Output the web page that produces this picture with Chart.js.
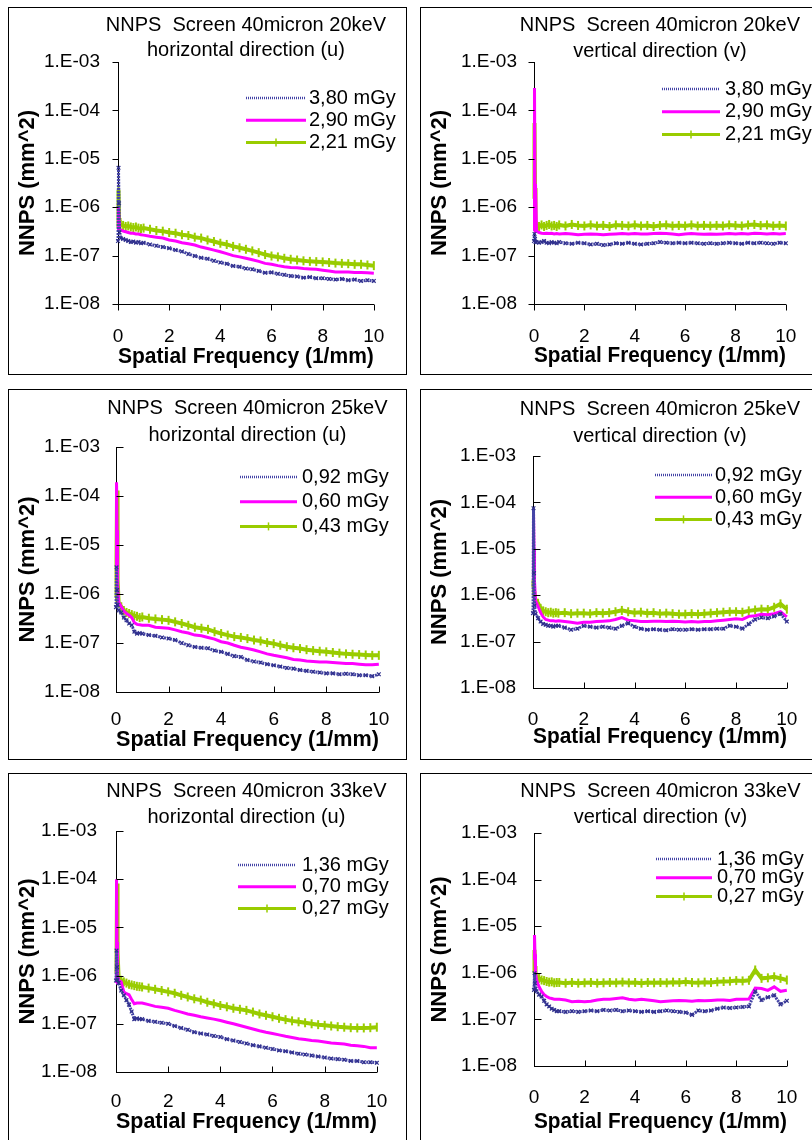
<!DOCTYPE html>
<html>
<head>
<meta charset="utf-8">
<script src="https://cdn.jsdelivr.net/npm/chart.js@4/dist/chart.umd.min.js"></script>
<style>
  html, body { margin: 0; padding: 0; background: #fff; overflow: hidden; }
  body { width: 812px; height: 1140px; position: relative; }
  .panel { position: absolute; border: 1px solid #000; background: #fff; overflow: hidden; }
  .panel canvas { display: block; }
</style>
</head>
<body>
<div class="panel" style="left:8px;top:7px;width:397px;height:366px"><canvas id="c1"></canvas></div>
<div class="panel" style="left:420px;top:7px;width:397px;height:366px"><canvas id="c2"></canvas></div>
<div class="panel" style="left:8px;top:389px;width:397px;height:369px"><canvas id="c3"></canvas></div>
<div class="panel" style="left:420px;top:389px;width:397px;height:369px"><canvas id="c4"></canvas></div>
<div class="panel" style="left:8px;top:773px;width:397px;height:368px"><canvas id="c5"></canvas></div>
<div class="panel" style="left:420px;top:773px;width:397px;height:368px"><canvas id="c6"></canvas></div>
<script>
// spatial frequency (1/mm), shared by every series
const freq = [0, 0.02, 0.04, 0.06, 0.1, 0.2, 0.3, 0.4, 0.5, 0.6, 0.7, 0.8, 0.9, 1.0,
  1.25, 1.5, 1.75, 2.0, 2.25, 2.5, 2.75, 3.0, 3.25, 3.5, 3.75, 4.0,
  4.25, 4.5, 4.75, 5.0, 5.25, 5.5, 5.75, 6.0, 6.25, 6.5, 6.75, 7.0,
  7.25, 7.5, 7.75, 8.0, 8.25, 8.5, 8.75, 9.0, 9.25, 9.5, 9.75, 10.0];

const dose20 = ['3,80 mGy', '2,90 mGy', '2,21 mGy'];
const dose25 = ['0,92 mGy', '0,60 mGy', '0,43 mGy'];
const dose33 = ['1,36 mGy', '0,70 mGy', '0,27 mGy'];

// NNPS (mm^2) - 20 keV, horizontal (u)
const h20_380 = [2.0e-7, 6.5e-6, 1.2e-6, 3.0e-7, 2.3e-7, 2.2e-7, 2.1e-7, 2.0e-7, 1.9e-7, 1.95e-7, 1.85e-7, 1.9e-7, 1.8e-7, 1.85e-7,
  1.7e-7, 1.6e-7, 1.5e-7, 1.42e-7, 1.3e-7, 1.22e-7, 1.08e-7, 9.8e-8, 9.0e-8, 8.6e-8, 7.8e-8, 7.2e-8,
  6.8e-8, 6.1e-8, 5.9e-8, 5.4e-8, 5.2e-8, 4.8e-8, 4.4e-8, 4.5e-8, 4.2e-8, 4.0e-8, 3.8e-8, 3.7e-8,
  3.5e-8, 3.6e-8, 3.4e-8, 3.4e-8, 3.3e-8, 3.2e-8, 3.3e-8, 3.1e-8, 3.2e-8, 3.0e-8, 3.1e-8, 3.0e-8];
const h20_290 = [3.4e-7, 1.0e-6, 5.0e-7, 3.6e-7, 3.4e-7, 3.2e-7, 3.1e-7, 3.0e-7, 2.9e-7, 2.9e-7, 2.8e-7, 2.8e-7, 2.7e-7, 2.65e-7,
  2.5e-7, 2.4e-7, 2.3e-7, 2.1e-7, 2.0e-7, 1.85e-7, 1.75e-7, 1.65e-7, 1.5e-7, 1.4e-7, 1.3e-7, 1.2e-7,
  1.1e-7, 1.0e-7, 9.4e-8, 8.8e-8, 8.2e-8, 7.6e-8, 6.9e-8, 6.6e-8, 6.2e-8, 5.9e-8, 5.7e-8, 5.6e-8,
  5.4e-8, 5.3e-8, 5.2e-8, 5.0e-8, 4.8e-8, 4.6e-8, 4.6e-8, 4.6e-8, 4.5e-8, 4.5e-8, 4.4e-8, 4.3e-8];
const h20_221 = [3.8e-7, 2.3e-6, 6.0e-7, 4.6e-7, 4.4e-7, 4.2e-7, 4.0e-7, 4.1e-7, 3.9e-7, 3.8e-7, 3.9e-7, 3.7e-7, 3.6e-7, 3.7e-7,
  3.5e-7, 3.3e-7, 3.2e-7, 3.0e-7, 2.9e-7, 2.7e-7, 2.6e-7, 2.4e-7, 2.3e-7, 2.1e-7, 1.95e-7, 1.8e-7,
  1.7e-7, 1.55e-7, 1.45e-7, 1.35e-7, 1.25e-7, 1.15e-7, 1.05e-7, 9.8e-8, 9.4e-8, 8.8e-8, 8.4e-8, 8.1e-8,
  7.8e-8, 7.6e-8, 7.5e-8, 7.4e-8, 7.2e-8, 7.0e-8, 6.9e-8, 6.8e-8, 6.6e-8, 6.6e-8, 6.4e-8, 6.2e-8];

// 20 keV, vertical (v)
const v20_380 = [2.0e-7, 2.8e-7, 2.2e-7, 1.9e-7, 1.9e-7, 1.85e-7, 1.9e-7, 2.0e-7, 1.85e-7, 1.8e-7, 1.9e-7, 1.85e-7, 1.8e-7, 1.9e-7,
  1.8e-7, 1.75e-7, 1.85e-7, 1.8e-7, 1.7e-7, 1.75e-7, 1.65e-7, 1.7e-7, 1.8e-7, 1.75e-7, 1.85e-7, 1.75e-7,
  1.7e-7, 1.75e-7, 1.8e-7, 1.9e-7, 1.85e-7, 1.8e-7, 1.85e-7, 1.8e-7, 1.85e-7, 1.8e-7, 1.75e-7, 1.8e-7,
  1.75e-7, 1.8e-7, 1.85e-7, 1.8e-7, 1.75e-7, 1.85e-7, 1.8e-7, 1.85e-7, 1.8e-7, 1.75e-7, 1.85e-7, 1.8e-7];
const v20_290 = [3.2e-7, 2.9e-4, 1.5e-6, 3.0e-6, 3.2e-7, 3.0e-7, 2.9e-7, 2.85e-7, 2.9e-7, 2.85e-7, 2.9e-7, 2.8e-7, 2.85e-7, 2.8e-7,
  2.85e-7, 2.8e-7, 2.7e-7, 2.75e-7, 2.8e-7, 2.75e-7, 2.7e-7, 2.75e-7, 2.8e-7, 2.85e-7, 2.8e-7, 2.85e-7,
  2.8e-7, 2.8e-7, 2.85e-7, 2.9e-7, 2.85e-7, 2.8e-7, 2.7e-7, 2.8e-7, 2.85e-7, 2.8e-7, 2.75e-7, 2.8e-7,
  2.75e-7, 2.8e-7, 2.85e-7, 2.8e-7, 2.85e-7, 2.8e-7, 2.9e-7, 2.85e-7, 2.8e-7, 2.85e-7, 2.8e-7, 2.85e-7];
const v20_221 = [1.5e-6, 5.5e-5, 2.5e-6, 4.5e-7, 4.2e-7, 4.0e-7, 4.3e-7, 4.0e-7, 4.2e-7, 4.4e-7, 4.1e-7, 4.2e-7, 4.0e-7, 4.3e-7,
  4.1e-7, 4.4e-7, 4.2e-7, 4.1e-7, 4.3e-7, 4.1e-7, 4.2e-7, 4.0e-7, 4.3e-7, 4.2e-7, 4.1e-7, 4.3e-7,
  4.1e-7, 4.2e-7, 4.0e-7, 4.2e-7, 4.3e-7, 4.1e-7, 4.2e-7, 4.1e-7, 4.3e-7, 4.1e-7, 4.2e-7, 4.1e-7,
  4.2e-7, 4.1e-7, 4.3e-7, 4.2e-7, 4.1e-7, 4.3e-7, 4.4e-7, 4.2e-7, 4.3e-7, 4.1e-7, 4.2e-7, 4.1e-7];

// 25 keV, horizontal (u)
const h25_092 = [5.4e-7, 3.5e-6, 1.2e-6, 6.0e-7, 4.6e-7, 4.2e-7, 3.3e-7, 2.9e-7, 2.5e-7, 2.3e-7, 1.7e-7, 1.55e-7, 1.6e-7, 1.55e-7,
  1.45e-7, 1.4e-7, 1.3e-7, 1.23e-7, 1.15e-7, 1.0e-7, 9.0e-8, 8.3e-8, 8.0e-8, 7.8e-8, 7.0e-8, 6.6e-8,
  6.0e-8, 5.4e-8, 5.2e-8, 4.5e-8, 4.2e-8, 4.0e-8, 3.7e-8, 3.5e-8, 3.3e-8, 3.1e-8, 3.0e-8, 2.8e-8,
  2.7e-8, 2.6e-8, 2.5e-8, 2.4e-8, 2.4e-8, 2.3e-8, 2.35e-8, 2.3e-8, 2.2e-8, 2.2e-8, 2.1e-8, 2.3e-8];
const h25_060 = [3.0e-6, 1.9e-4, 2.0e-5, 1.5e-6, 6.9e-7, 5.5e-7, 4.5e-7, 4.0e-7, 3.7e-7, 3.3e-7, 2.6e-7, 2.4e-7, 2.35e-7, 2.3e-7,
  2.3e-7, 2.1e-7, 2.05e-7, 2.0e-7, 1.85e-7, 1.7e-7, 1.6e-7, 1.45e-7, 1.4e-7, 1.3e-7, 1.2e-7, 1.06e-7,
  1.0e-7, 9.0e-8, 8.2e-8, 7.7e-8, 7.2e-8, 6.6e-8, 6.0e-8, 5.6e-8, 5.3e-8, 5.0e-8, 4.6e-8, 4.5e-8,
  4.3e-8, 4.2e-8, 4.1e-8, 4.1e-8, 4.0e-8, 3.9e-8, 3.8e-8, 3.8e-8, 3.7e-8, 3.6e-8, 3.6e-8, 3.7e-8];
const h25_043 = [8.7e-7, 5.0e-6, 1.3e-4, 2.0e-6, 6.5e-7, 5.5e-7, 4.6e-7, 4.2e-7, 4.0e-7, 3.8e-7, 3.6e-7, 3.5e-7, 3.3e-7, 3.4e-7,
  3.2e-7, 3.1e-7, 3.0e-7, 2.9e-7, 2.7e-7, 2.5e-7, 2.3e-7, 2.1e-7, 2.0e-7, 1.9e-7, 1.7e-7, 1.56e-7,
  1.45e-7, 1.35e-7, 1.3e-7, 1.23e-7, 1.15e-7, 1.1e-7, 1.02e-7, 9.7e-8, 9.0e-8, 8.4e-8, 8.0e-8, 7.7e-8,
  7.3e-8, 7.0e-8, 6.8e-8, 6.6e-8, 6.4e-8, 6.2e-8, 6.0e-8, 5.9e-8, 5.8e-8, 5.7e-8, 5.6e-8, 5.6e-8];

// 25 keV, vertical (v)
const v25_092 = [4.1e-7, 7.5e-5, 3.0e-6, 6.0e-7, 4.0e-7, 3.2e-7, 2.7e-7, 2.4e-7, 2.3e-7, 2.2e-7, 2.2e-7, 2.1e-7, 2.2e-7, 2.2e-7,
  2.0e-7, 1.8e-7, 1.9e-7, 2.2e-7, 2.1e-7, 2.0e-7, 2.1e-7, 2.0e-7, 1.9e-7, 2.2e-7, 2.5e-7, 2.1e-7,
  1.9e-7, 1.8e-7, 1.85e-7, 1.8e-7, 1.75e-7, 1.85e-7, 1.8e-7, 1.8e-7, 1.85e-7, 1.8e-7, 1.85e-7, 1.85e-7,
  1.9e-7, 1.9e-7, 2.2e-7, 2.1e-7, 1.9e-7, 2.4e-7, 3.0e-7, 3.3e-7, 3.2e-7, 3.5e-7, 4.0e-7, 2.7e-7];
const v25_060 = [2.1e-6, 6.3e-5, 1.0e-5, 2.0e-6, 7.5e-7, 5.7e-7, 4.2e-7, 3.4e-7, 3.0e-7, 2.9e-7, 2.8e-7, 2.8e-7, 2.75e-7, 2.8e-7,
  2.7e-7, 2.6e-7, 2.5e-7, 2.6e-7, 2.6e-7, 2.7e-7, 2.75e-7, 2.8e-7, 3.0e-7, 3.3e-7, 2.9e-7, 2.8e-7,
  2.7e-7, 2.7e-7, 2.75e-7, 2.75e-7, 2.7e-7, 2.75e-7, 2.7e-7, 2.65e-7, 2.7e-7, 2.65e-7, 2.7e-7, 2.7e-7,
  2.8e-7, 2.9e-7, 3.0e-7, 3.1e-7, 3.0e-7, 3.5e-7, 3.6e-7, 3.9e-7, 3.8e-7, 4.0e-7, 4.4e-7, 3.4e-7];
const v25_043 = [1.5e-6, 2.1e-6, 1.2e-6, 9.0e-7, 8.0e-7, 6.7e-7, 5.2e-7, 4.6e-7, 4.4e-7, 4.2e-7, 4.3e-7, 4.1e-7, 4.2e-7, 4.1e-7,
  4.2e-7, 4.0e-7, 4.1e-7, 4.1e-7, 4.0e-7, 4.2e-7, 4.1e-7, 4.2e-7, 4.4e-7, 4.7e-7, 4.4e-7, 4.2e-7,
  4.3e-7, 4.1e-7, 4.2e-7, 4.0e-7, 4.1e-7, 4.0e-7, 3.9e-7, 3.9e-7, 4.0e-7, 3.9e-7, 4.0e-7, 4.1e-7,
  4.2e-7, 4.3e-7, 4.4e-7, 4.4e-7, 4.3e-7, 4.6e-7, 4.8e-7, 5.0e-7, 4.9e-7, 5.5e-7, 6.5e-7, 5.0e-7];

// 33 keV, horizontal (u)
const h33_136 = [7.9e-7, 3.3e-6, 1.5e-6, 8.0e-7, 7.0e-7, 4.9e-7, 3.9e-7, 3.1e-7, 2.5e-7, 1.8e-7, 1.25e-7, 1.3e-7, 1.25e-7, 1.25e-7,
  1.15e-7, 1.1e-7, 1.05e-7, 1.0e-7, 9.0e-8, 8.2e-8, 7.5e-8, 6.7e-8, 6.3e-8, 6.0e-8, 5.6e-8, 5.3e-8,
  4.8e-8, 4.5e-8, 4.2e-8, 3.9e-8, 3.6e-8, 3.4e-8, 3.2e-8, 3.0e-8, 2.8e-8, 2.7e-8, 2.55e-8, 2.4e-8,
  2.3e-8, 2.2e-8, 2.1e-8, 2.0e-8, 1.9e-8, 1.85e-8, 1.8e-8, 1.7e-8, 1.7e-8, 1.6e-8, 1.6e-8, 1.55e-8];
const h33_070 = [7.0e-7, 1.0e-4, 5.0e-6, 1.0e-6, 8.0e-7, 7.4e-7, 4.6e-7, 4.2e-7, 4.0e-7, 3.2e-7, 2.6e-7, 2.7e-7, 2.7e-7, 2.7e-7,
  2.5e-7, 2.3e-7, 2.2e-7, 2.1e-7, 1.9e-7, 1.75e-7, 1.6e-7, 1.5e-7, 1.4e-7, 1.32e-7, 1.25e-7, 1.17e-7,
  1.08e-7, 1.0e-7, 9.2e-8, 8.5e-8, 7.8e-8, 7.2e-8, 6.7e-8, 6.3e-8, 5.9e-8, 5.5e-8, 5.2e-8, 4.9e-8,
  4.7e-8, 4.5e-8, 4.4e-8, 4.2e-8, 4.0e-8, 3.9e-8, 3.8e-8, 3.6e-8, 3.5e-8, 3.4e-8, 3.2e-8, 3.2e-8];
const h33_027 = [1.1e-6, 2.0e-6, 8.1e-5, 3.0e-6, 9.0e-7, 8.0e-7, 7.4e-7, 7.0e-7, 6.6e-7, 6.4e-7, 6.2e-7, 6.0e-7, 5.9e-7, 5.8e-7,
  5.5e-7, 5.2e-7, 4.9e-7, 4.6e-7, 4.3e-7, 3.9e-7, 3.6e-7, 3.3e-7, 3.1e-7, 2.8e-7, 2.6e-7, 2.4e-7,
  2.25e-7, 2.1e-7, 2.0e-7, 1.9e-7, 1.75e-7, 1.6e-7, 1.5e-7, 1.4e-7, 1.3e-7, 1.22e-7, 1.15e-7, 1.1e-7,
  1.05e-7, 1.0e-7, 9.6e-8, 9.3e-8, 9.0e-8, 8.7e-8, 8.5e-8, 8.3e-8, 8.2e-8, 8.2e-8, 8.3e-8, 8.5e-8];

// 33 keV, vertical (v)
const v33_136 = [4.3e-7, 9.8e-7, 6.0e-7, 4.5e-7, 4.0e-7, 3.4e-7, 3.1e-7, 2.5e-7, 2.1e-7, 1.9e-7, 1.7e-7, 1.6e-7, 1.5e-7, 1.5e-7,
  1.45e-7, 1.5e-7, 1.45e-7, 1.5e-7, 1.55e-7, 1.5e-7, 1.6e-7, 1.55e-7, 1.6e-7, 1.5e-7, 1.55e-7, 1.5e-7,
  1.45e-7, 1.5e-7, 1.45e-7, 1.5e-7, 1.55e-7, 1.5e-7, 1.45e-7, 1.4e-7, 1.25e-7, 1.55e-7, 1.5e-7, 1.55e-7,
  1.7e-7, 1.8e-7, 1.75e-7, 1.8e-7, 1.85e-7, 1.9e-7, 4.0e-7, 2.6e-7, 3.0e-7, 3.3e-7, 2.1e-7, 2.5e-7];
const v33_070 = [1.9e-6, 6.5e-6, 2.5e-6, 1.0e-6, 7.0e-7, 5.0e-7, 4.0e-7, 3.4e-7, 3.1e-7, 2.9e-7, 2.8e-7, 2.7e-7, 2.7e-7, 2.7e-7,
  2.6e-7, 2.4e-7, 2.45e-7, 2.4e-7, 2.45e-7, 2.6e-7, 2.7e-7, 2.7e-7, 2.8e-7, 2.9e-7, 2.7e-7, 2.6e-7,
  2.7e-7, 2.6e-7, 2.5e-7, 2.4e-7, 2.45e-7, 2.5e-7, 2.55e-7, 2.5e-7, 2.45e-7, 2.55e-7, 2.5e-7, 2.55e-7,
  2.6e-7, 2.6e-7, 2.55e-7, 2.7e-7, 2.7e-7, 2.75e-7, 4.7e-7, 4.6e-7, 4.2e-7, 5.0e-7, 4.0e-7, 4.2e-7];
const v33_027 = [9.8e-7, 3.1e-6, 1.4e-6, 9.0e-7, 8.0e-7, 7.6e-7, 7.0e-7, 6.8e-7, 6.5e-7, 6.3e-7, 6.4e-7, 6.1e-7, 6.2e-7, 6.2e-7,
  6.0e-7, 6.2e-7, 6.0e-7, 6.1e-7, 6.2e-7, 6.0e-7, 6.1e-7, 6.2e-7, 6.1e-7, 6.3e-7, 6.1e-7, 6.2e-7,
  6.0e-7, 6.2e-7, 6.1e-7, 6.2e-7, 6.1e-7, 6.3e-7, 6.2e-7, 6.4e-7, 6.2e-7, 6.1e-7, 6.3e-7, 6.2e-7,
  6.4e-7, 6.5e-7, 6.6e-7, 6.8e-7, 6.7e-7, 6.9e-7, 1.15e-6, 7.6e-7, 7.8e-7, 8.2e-7, 7.6e-7, 7.0e-7];

const FONT = "'Liberation Sans', Arial, Helvetica, sans-serif";
Chart.defaults.font.family = FONT;
Chart.defaults.color = '#000';

// blue dotted w/ small x markers, solid magenta, yellow-green with + markers
const lineStyles = [
  { borderColor: '#4444a6', borderWidth: 3, borderDash: [2, 1], pointStyle: 'crossRot', pointRadius: 2.6, pointBorderWidth: 1.2, pointBorderColor: '#30308c' },
  { borderColor: '#ff00ff', borderWidth: 3, pointRadius: 0 },
  { borderColor: '#99cc00', borderWidth: 4, pointStyle: 'line', pointRotation: 90, pointRadius: 4.5, pointBorderWidth: 2, pointBorderColor: '#99cc00' }
];
const legendStyles = [{ w: 2.5, dash: [1, 1] }, { w: 3 }, { w: 3, tick: true }];

const panels = [
  { id: 'c1', w: 397, h: 366, series: [h20_380, h20_290, h20_221], labels: dose20,
    title: ['NNPS  Screen 40micron 20keV', 'horizontal direction (u)'], titleY: [17, 42],
    area: { l: 109, r: 383, t: 54, b: 296 }, yLabRight: 91, xLabY: 329, xTitleY: 349, inward: false,
    legend: { x0: 237, x1: 297, tx: 300, y0: 90, dy: 22.2 } },
  { id: 'c2', w: 397, h: 366, series: [v20_380, v20_290, v20_221], labels: dose20,
    title: ['NNPS  Screen 40micron 20keV', 'vertical direction (v)'], titleY: [17, 43],
    area: { l: 113, r: 386, t: 54, b: 296 }, yLabRight: 96, xLabY: 329, xTitleY: 348, inward: false,
    legend: { x0: 241, x1: 299, tx: 304, y0: 81, dy: 22.8 } },
  { id: 'c3', w: 397, h: 369, series: [h25_092, h25_060, h25_043], labels: dose25,
    title: ['NNPS  Screen 40micron 25keV', 'horizontal direction (u)'], titleY: [18, 45],
    area: { l: 107, r: 385, t: 57, b: 302 }, yLabRight: 91, xLabY: 330, xTitleY: 350, inward: true,
    legend: { x0: 231, x1: 288, tx: 293, y0: 87, dy: 24.7 } },
  { id: 'c4', w: 397, h: 369, series: [v25_092, v25_060, v25_043], labels: dose25,
    title: ['NNPS  Screen 40micron 25keV', 'vertical direction (v)'], titleY: [19, 46],
    area: { l: 112, r: 384, t: 66, b: 298 }, yLabRight: 95, xLabY: 330, xTitleY: 347, inward: true,
    legend: { x0: 234, x1: 291, tx: 294, y0: 85, dy: 22.2 } },
  { id: 'c5', w: 397, h: 368, series: [h33_136, h33_070, h33_027], labels: dose33,
    title: ['NNPS  Screen 40micron 33keV', 'horizontal direction (u)'], titleY: [17, 43],
    area: { l: 107, r: 385, t: 57, b: 298 }, yLabRight: 88, xLabY: 328, xTitleY: 348, inward: true,
    legend: { x0: 229, x1: 287, tx: 293, y0: 91, dy: 21.7 } },
  { id: 'c6', w: 397, h: 368, series: [v33_136, v33_070, v33_027], labels: dose33,
    title: ['NNPS  Screen 40micron 33keV', 'vertical direction (v)'], titleY: [17, 43],
    area: { l: 113, r: 385, t: 59, b: 292 }, yLabRight: 96, xLabY: 324, xTitleY: 348, inward: true,
    legend: { x0: 235, x1: 291, tx: 296, y0: 85, dy: 18.8 } }
];

function decadeLabel(v) {
  const e = Math.log10(v);
  if (Math.abs(e - Math.round(e)) > 1e-6) return null;
  return '1.E-0' + (-Math.round(e));
}

// axis ticks, titles and legend
const decor = {
  id: 'decor',
  afterDraw(chart, args, o) {
    const { ctx, chartArea: a, scales: { x, y } } = chart;
    ctx.save();
    ctx.strokeStyle = '#000';
    ctx.lineWidth = 1;
    ctx.beginPath();
    const by = Math.round(a.bottom) + 0.5;
    const lx = Math.round(a.left) + 0.5;
    x.ticks.forEach(t => {
      const px = Math.round(x.getPixelForValue(t.value)) + 0.5;
      ctx.moveTo(px, by);
      ctx.lineTo(px, o.inward ? by - 6 : by + 6);
    });
    y.ticks.forEach(t => {
      const py = Math.round(y.getPixelForValue(t.value)) + 0.5;
      const e = Math.log10(t.value);
      const major = Math.abs(e - Math.round(e)) < 1e-6;
      if (major) {
        ctx.moveTo(lx, py);
        ctx.lineTo(o.inward ? lx + 7 : lx - 6, py);
      } else if (o.inward) {
        const m = t.value / Math.pow(10, Math.floor(e + 1e-9));
        if (Math.abs(m - Math.round(m)) < 1e-6) {
          ctx.moveTo(lx, py);
          ctx.lineTo(lx + 3.5, py);
        }
      }
    });
    ctx.stroke();

    // chart title, centred on the plot area
    const cx = (a.left + a.right) / 2;
    ctx.fillStyle = '#000';
    ctx.font = '20px ' + FONT;
    ctx.textAlign = 'center';
    ctx.textBaseline = 'middle';
    ctx.fillText(o.title[0], cx, o.titleY[0]);
    ctx.fillText(o.title[1], cx, o.titleY[1]);

    // legend
    const L = o.legend;
    ctx.textAlign = 'left';
    chart.data.datasets.forEach((ds, i) => {
      const ly = L.y0 + i * L.dy;
      const st = legendStyles[i];
      ctx.strokeStyle = ds.borderColor;
      ctx.lineWidth = st.w;
      ctx.setLineDash(st.dash || []);
      ctx.beginPath();
      ctx.moveTo(L.x0, ly);
      ctx.lineTo(L.x1, ly);
      ctx.stroke();
      ctx.setLineDash([]);
      if (st.tick) {
        ctx.lineWidth = 1.5;
        ctx.beginPath();
        ctx.moveTo((L.x0 + L.x1) / 2, ly - 4);
        ctx.lineTo((L.x0 + L.x1) / 2, ly + 4);
        ctx.stroke();
      }
      ctx.fillText(ds.label, L.tx, ly);
    });
    ctx.restore();
  }
};

panels.forEach(p => {
  const canvas = document.getElementById(p.id);
  canvas.width = p.w;
  canvas.height = p.h;
  const a = p.area;
  const datasets = p.series.map((vals, i) => Object.assign({
    label: p.labels[i],
    data: freq.map((f, k) => ({ x: f, y: vals[k] })),
    showLine: true,
    fill: false,
    tension: 0,
    clip: false
  }, lineStyles[i]));

  new Chart(canvas, {
    type: 'scatter',
    data: { datasets },
    plugins: [decor],
    options: {
      responsive: false,
      animation: false,
      events: [],
      layout: { padding: { left: 0, top: a.t, right: p.w - a.r, bottom: 0 } },
      plugins: {
        legend: { display: false },
        title: { display: false },
        tooltip: { enabled: false },
        decor: { title: p.title, titleY: p.titleY, inward: p.inward, legend: p.legend }
      },
      scales: {
        x: {
          type: 'linear', min: 0, max: 10,
          ticks: { stepSize: 2, maxRotation: 0, autoSkip: false, font: { size: 19 }, padding: p.xLabY - a.b - 11.4 },
          grid: { display: false, drawTicks: false },
          border: { display: true, color: '#000', width: 1 },
          title: { display: true, text: 'Spatial Frequency (1/mm)', font: { size: 22, weight: 'bold' },
                   padding: { top: 0, bottom: p.h - p.xTitleY - 13.2 } },
          afterFit: s => { s.height = p.h - a.b; }
        },
        y: {
          type: 'logarithmic', min: 1e-8, max: 1e-3,
          ticks: { autoSkip: false, font: { size: 19 }, padding: a.l - p.yLabRight, callback: decadeLabel },
          grid: { display: false, drawTicks: false },
          border: { display: true, color: '#000', width: 1 },
          title: { display: true, text: 'NNPS (mm^2)', font: { size: 22, weight: 'bold' }, padding: { top: 5.5, bottom: 0 } },
          afterFit: s => { s.width = a.l; }
        }
      }
    }
  });
});
</script>
</body>
</html>
